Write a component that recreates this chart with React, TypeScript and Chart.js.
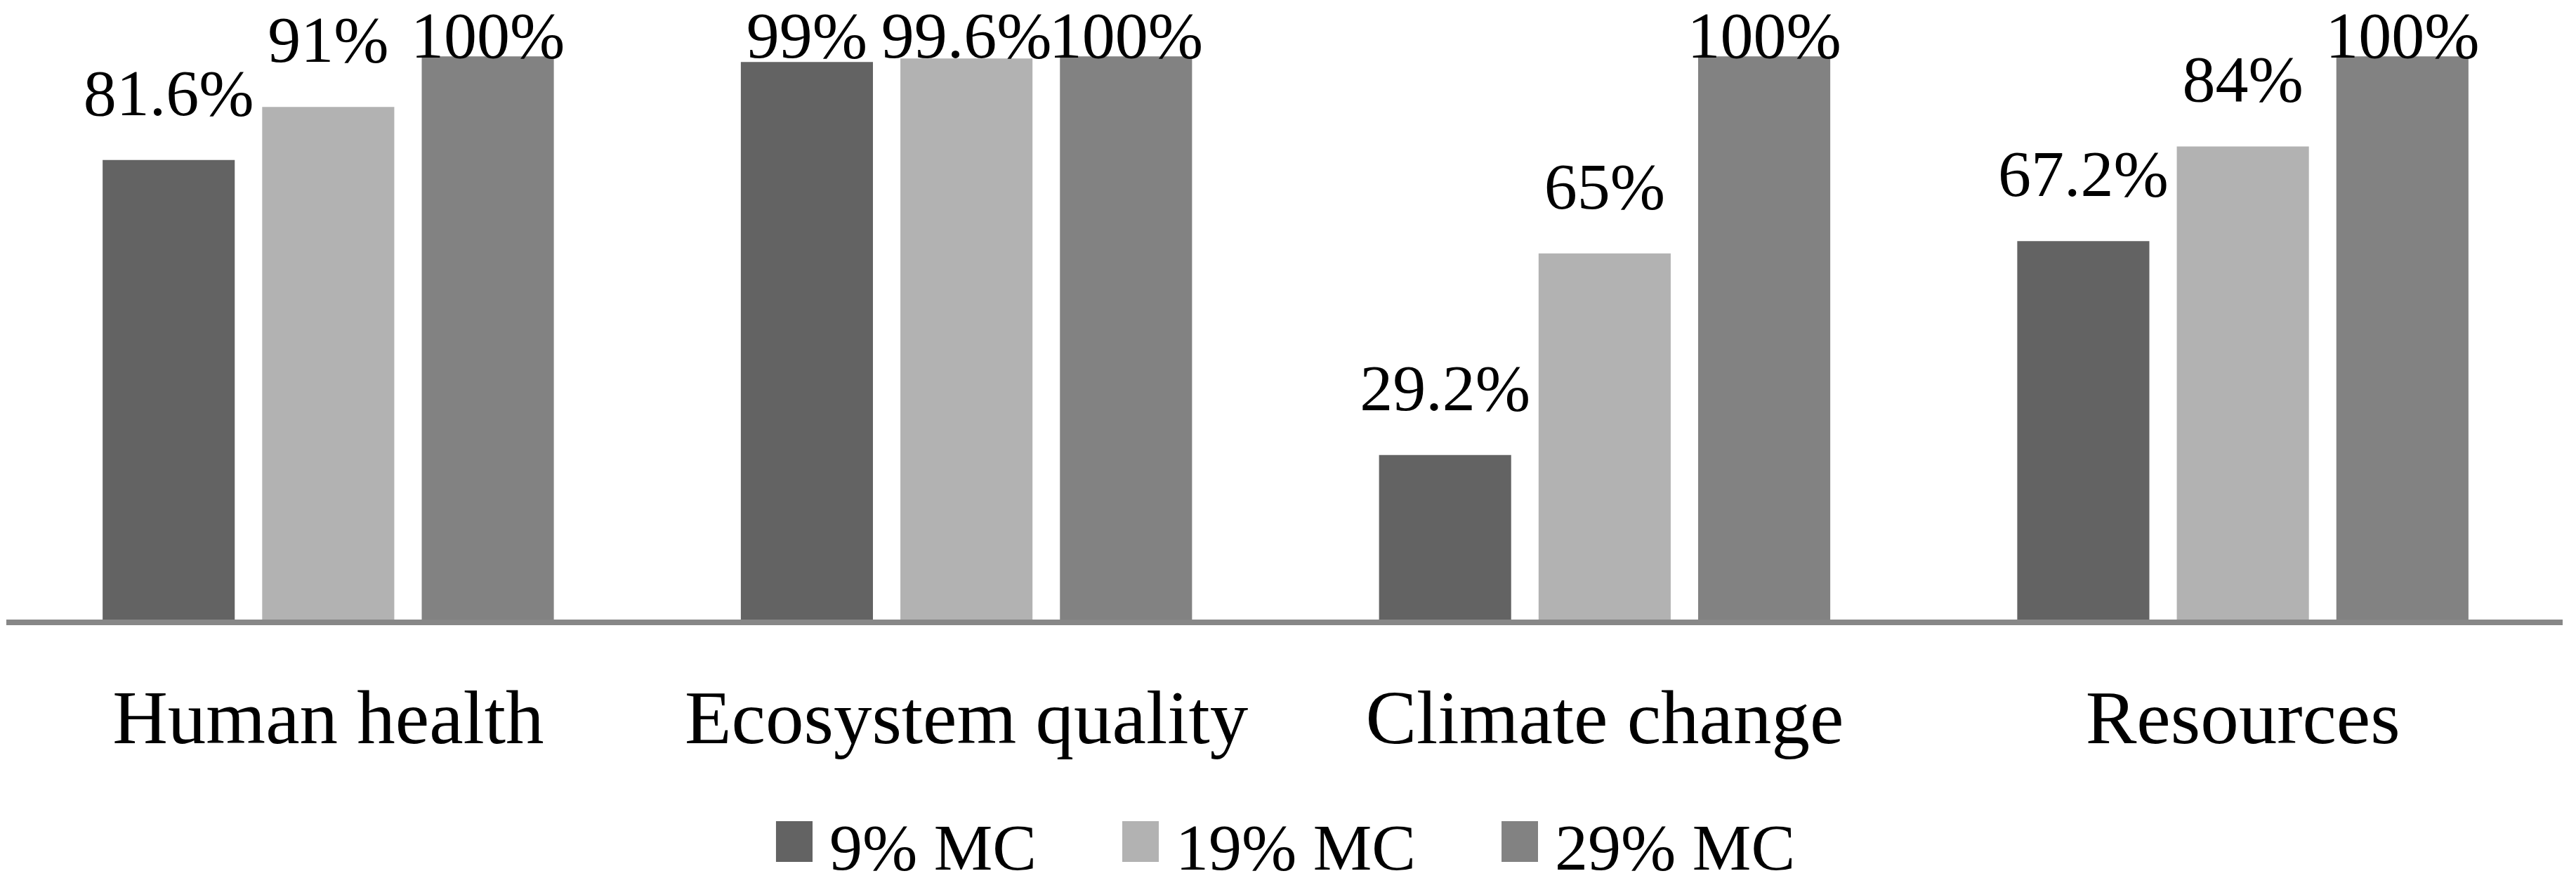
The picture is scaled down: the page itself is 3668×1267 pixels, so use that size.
import React, { useEffect, useRef } from "react";
import { Chart, registerables } from "chart.js";

Chart.register(...registerables);

const categories = ["Human health", "Ecosystem quality", "Climate change", "Resources"];
const seriesLabels = ["9% MC", "19% MC", "29% MC"];
const mc9 = [81.6, 99, 29.2, 67.2];
const mc19 = [91, 99.6, 65, 84];
const mc29 = [100, 100, 100, 100];
const seriesColors = ["#636363", "#b2b2b2", "#828282"];

const FONT = "'Liberation Serif', 'Times New Roman', serif";

// legend swatch: 52x58 square, placed inside a larger transparent canvas so that
// it sits left of and slightly above the legend text, as in the reference
function makeSwatch(color: string): HTMLCanvasElement {
  const c = document.createElement("canvas");
  c.width = 75;
  c.height = 88;
  const g = c.getContext("2d");
  if (g) {
    g.fillStyle = color;
    g.fillRect(23, 0, 52, 58);
  }
  return c;
}

const valueLabels = {
  id: "valueLabels",
  afterDatasetsDraw(chart: any) {
    const ctx = chart.ctx;
    ctx.save();
    ctx.font = `94px ${FONT}`;
    ctx.fillStyle = "#000000";
    ctx.textAlign = "center";
    ctx.textBaseline = "alphabetic";
    chart.data.datasets.forEach((ds: any, i: number) => {
      const meta = chart.getDatasetMeta(i);
      meta.data.forEach((bar: any, j: number) => {
        const v = ds.data[j];
        const y = Math.max(bar.y - 64, chart.chartArea.top + 74);
        ctx.fillText(`${v}%`, bar.x, y);
      });
    });
    ctx.restore();
  },
};

// move the legend row up closer to the category labels
const legendShift = {
  id: "legendShift",
  afterLayout(chart: any) {
    const lg = chart.legend;
    if (!lg) return;
    lg.top -= 128;
    lg.bottom = chart.height;
  },
};

export default function App() {
  const ref = useRef<HTMLCanvasElement | null>(null);
  useEffect(() => {
    if (!ref.current) return;
    const seriesData = [mc9, mc19, mc29];
    const chart = new Chart(ref.current, {
      type: "bar",
      data: {
        labels: categories,
        datasets: seriesLabels.map((label, i) => ({
          label,
          data: seriesData[i],
          backgroundColor: seriesColors[i],
          borderWidth: 0,
          categoryPercentage: 0.75,
          barPercentage: 0.828,
          pointStyle: makeSwatch(seriesColors[i]),
        })),
      },
      options: {
        animation: false,
        responsive: true,
        maintainAspectRatio: false,
        layout: { padding: { left: 5, right: 12, top: 0, bottom: 0 } },
        plugins: {
          tooltip: { enabled: false },
          legend: {
            position: "bottom",
            maxHeight: 87,
            labels: {
              usePointStyle: true,
              pointStyleWidth: 29,
              boxWidth: 29,
              boxHeight: 58,
              padding: 122,
              color: "#000000",
              font: { family: FONT, size: 94 },
            },
          },
        },
        scales: {
          x: {
            grid: { display: false, drawTicks: false, tickLength: 0 },
            border: { display: true, color: "#878787", width: 8 },
            ticks: {
              color: "#000000",
              padding: 102,
              maxRotation: 0,
              autoSkip: false,
              font: { family: FONT, size: 109, lineHeight: 0.7523 },
            },
          },
          y: {
            display: false,
            min: -0.5,
            max: 109,
          },
        },
      },
      plugins: [valueLabels, legendShift],
    });
    return () => chart.destroy();
  }, []);
  return (
    <div style={{ position: "relative", width: "100%", height: "1251px" }}>
      <canvas ref={ref} />
    </div>
  );
}
